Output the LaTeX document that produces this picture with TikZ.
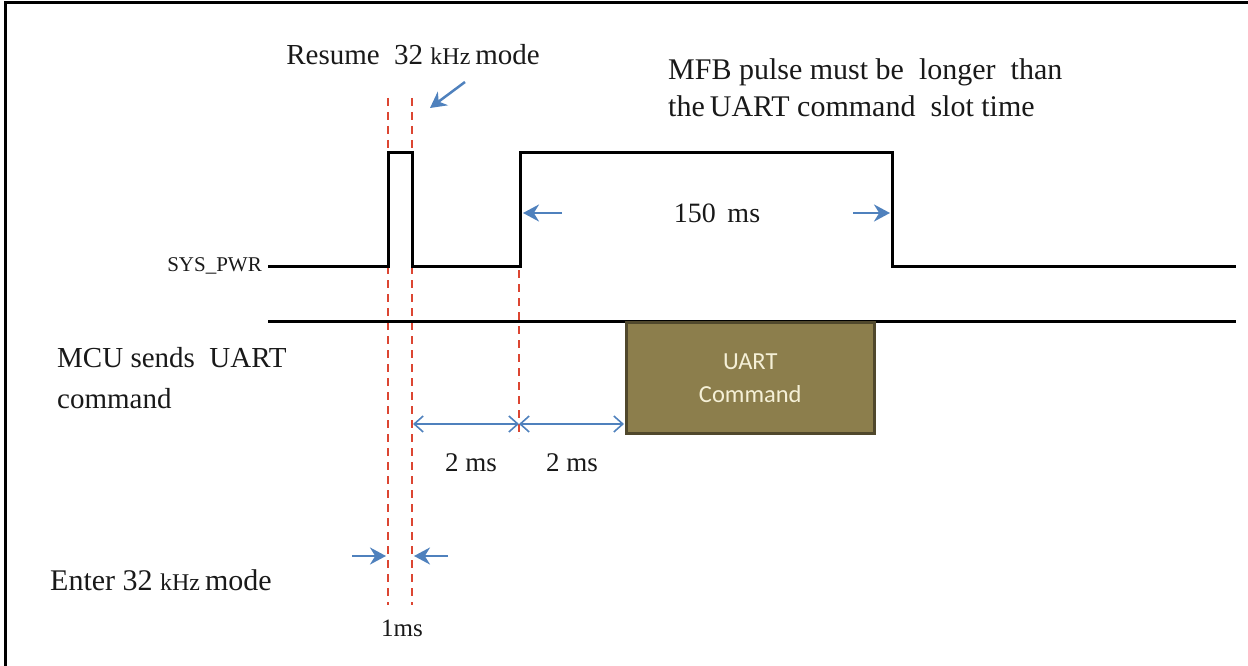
\documentclass[tikz,border=0pt]{standalone}
\usepackage{fontspec}
\setmainfont{Liberation Serif}
\newfontfamily\boxfont{Carlito}
\usetikzlibrary{arrows.meta}
\definecolor{dashred}{RGB}{220,70,50}
\definecolor{arrblue}{RGB}{79,129,189}
\definecolor{boxfill}{RGB}{140,126,76}
\definecolor{boxedge}{RGB}{80,72,44}
\definecolor{boxtext}{RGB}{245,240,215}
\definecolor{txt}{RGB}{25,25,25}
\tikzset{
  wave/.style={line width=3pt, black, line join=miter},
  guide/.style={dashred, line width=1.8pt, dash pattern=on 8pt off 6pt},
  solidarr/.style={arrblue, line width=2.5pt, -{Stealth[length=16pt,width=17pt]}},
  openarr/.style={arrblue, line width=1.6pt, {Straight Barb[length=9pt,width=16pt]}-{Straight Barb[length=9pt,width=16pt]}},
  lbl/.style={font=\fontsize{29}{34}\selectfont, text=txt, inner sep=0pt},
  small/.style={font=\fontsize{21}{24}\selectfont, text=txt, inner sep=0pt}
}
\begin{document}
\begin{tikzpicture}[x=1pt,y=-1pt]
\useasboundingbox (0,0) rectangle (1248,666);
% frame (top and left edges only)
\draw[line width=3pt] (5,666) -- (5,3) -- (1248,3);

% guide lines
\coordinate (g1t) at (388,98);  \coordinate (g1b) at (388,605);
\coordinate (g2t) at (412,98);  \coordinate (g2b) at (412,605);
\coordinate (g3t) at (519,270); \coordinate (g3b) at (519,438);
\draw[guide] (g1t) -- (g1b);
\draw[guide] (g2t) -- (g2b);
\draw[guide] (g3t) -- (g3b);

% SYS_PWR waveform
\coordinate (w0) at (268,266);
\coordinate (w1) at (388,266);
\coordinate (w2) at (388,153);
\coordinate (w3) at (412,153);
\coordinate (w4) at (412,266);
\coordinate (w5) at (520,266);
\coordinate (w6) at (520,153);
\coordinate (w7) at (892,153);
\coordinate (w8) at (892,266);
\coordinate (w9) at (1236,266);
\draw[wave] (w0) -- (w1) -- (w2) -- (w3) -- (w4) -- (w5) -- (w6) -- (w7) -- (w8) -- (w9);
\node[small, anchor=east] (sys) at (262,266) {SYS\_PWR};

% MCU line and UART box
\coordinate (m0) at (268,321);
\coordinate (m1) at (1236,321);
\draw[wave] (m0) -- (m1);
\node[draw=boxedge, fill=boxfill, line width=2.5pt, minimum width=248pt, minimum height=111pt,
      anchor=north west, align=center, text=boxtext, font=\boxfont\fontsize{24.5}{33}\selectfont]
      (uart) at (625,321) {UART\\Command};

% texts
\node[lbl] (resume) at (413,55) {Resume\ \ 32 {\fontsize{24}{28}\selectfont kHz}\,mode};
\node[lbl, anchor=west, align=left, font=\fontsize{30}{37}\selectfont] (mfb) at (668,88)
   {MFB pulse must be\ \ longer\ \ than\\the\,UART\ command\ \ slot time};
\node[lbl, anchor=west, align=left, font=\fontsize{29}{41}\selectfont] (mcu) at (57,378)
   {MCU sends\ \ UART\\command};
\node[lbl, font=\fontsize{28}{32}\selectfont] (t150) at (717,213) {150\ \,ms};
\node[lbl, font=\fontsize{27}{32}\selectfont] (t2a) at (471,463) {2 ms};
\node[lbl, font=\fontsize{27}{32}\selectfont] (t2b) at (572,463) {2 ms};
\node[lbl, anchor=west, font=\fontsize{30}{34}\selectfont] (enter) at (50,580) {Enter 32 {\fontsize{24}{28}\selectfont kHz}\,mode};
\node[lbl, font=\fontsize{25}{30}\selectfont] (t1ms) at (402,628) {1ms};

% arrows
\coordinate (ra) at (465,82);  \coordinate (rb) at (430,108);
\draw[solidarr] (ra) -- (rb);
\coordinate (la) at (562,213); \coordinate (lb) at (523,213);
\draw[solidarr] (la) -- (lb);
\coordinate (rra) at (853,213); \coordinate (rrb) at (890,213);
\draw[solidarr] (rra) -- (rrb);
\coordinate (d0) at (413,424); \coordinate (d1) at (519,424); \coordinate (d2) at (624,424);
\draw[openarr] (d0) -- (d1);
\draw[openarr] (d1) -- (d2);
\coordinate (e0) at (352,556); \coordinate (e1) at (386,556);
\coordinate (f0) at (448,556); \coordinate (f1) at (414,556);
\draw[solidarr] (e0) -- (e1);
\draw[solidarr] (f0) -- (f1);
\end{tikzpicture}
\end{document}
